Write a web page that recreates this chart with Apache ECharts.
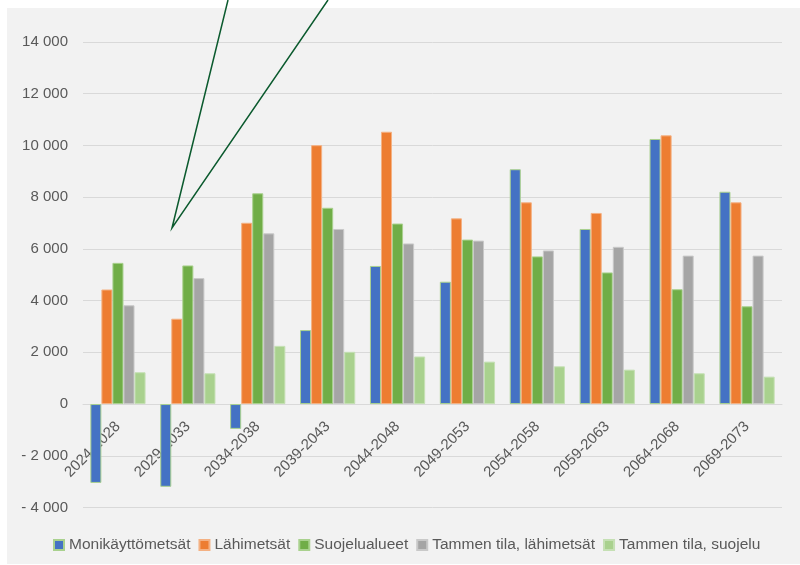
<!DOCTYPE html>
<html>
<head>
<meta charset="utf-8">
<script src="https://cdn.jsdelivr.net/npm/echarts@6/dist/echarts.min.js"></script>
<style>
  html, body { margin: 0; padding: 0; background: #fff; }
  #chart { width: 800px; height: 565px; }
</style>
</head>
<body>
<div id="chart"></div>
<script>
const periods = ["2024-2028", "2029-2033", "2034-2038", "2039-2043", "2044-2048",
  "2049-2053", "2054-2058", "2059-2063", "2064-2068", "2069-2073"];
const seriesNames = ["Monikäyttömetsät", "Lähimetsät", "Suojelualueet",
  "Tammen tila, lähimetsät", "Tammen tila, suojelu"];
const monikaytto = [-3050, -3200, -960, 2860, 5340, 4730, 9080, 6770, 10250, 8210];
const lahimetsat = [4430, 3300, 7010, 10010, 10530, 7180, 7800, 7390, 10390, 7800];
const suojelu = [5460, 5360, 8150, 7590, 6980, 6360, 5710, 5090, 4440, 3780];
const tammiLahi = [3820, 4870, 6600, 6770, 6210, 6320, 5940, 6080, 5740, 5740];
const tammiSuoj = [1230, 1190, 2250, 2020, 1840, 1640, 1460, 1330, 1190, 1060];
const yTicks = [-4000, -2000, 0, 2000, 4000, 6000, 8000, 10000, 12000, 14000];

const colors = ["#4472c4", "#ed7d31", "#70ad47", "#a5a5a5", "#a9d18e"];
const borders = ["#a9d18e", "#f4b183", "#a9d18e", "#c9c9c9", "#c5e0b4"];
const font = "Liberation Sans";

const fmt = (v) => {
  const s = Math.abs(v).toString().replace(/\B(?=(\d{3})+(?!\d))/g, " ");
  return v < 0 ? "- " + s : s;
};

const chartDom = document.getElementById("chart");
const myChart = echarts.init(chartDom);

const data = [monikaytto, lahimetsat, suojelu, tammiLahi, tammiSuoj];

// grid box, and where the zero line sits inside it (labels follow the zero line)
const gridTop = 42, gridBottom = 57.5;
const gridH = 565 - gridTop - gridBottom;
const yMin = yTicks[0], yMax = yTicks[yTicks.length - 1];
const zeroOffset = -((0 - yMin) / (yMax - yMin)) * gridH;

const option = {
  backgroundColor: "#ffffff",
  animation: false,
  color: colors,
  textStyle: { fontFamily: font },
  graphic: [
    {
      type: "rect",
      z: -10,
      shape: { x: 7, y: 8, width: 793, height: 556 },
      style: { fill: "#f2f2f2" },
    },
    // annotation arrow lines
    {
      type: "polyline",
      z: 10,
      shape: { points: [[228, 0], [172, 228], [328, 0]] },
      style: { stroke: "#0b5a2e", lineWidth: 1.5, fill: null },
    },
  ],
  legend: {
    top: 532,
    left: 48,
    itemWidth: 10,
    itemHeight: 10,
    itemGap: 8,
    icon: "rect",
    textStyle: { fontSize: 15.5, color: "#595959", fontFamily: font },
    data: seriesNames,
  },
  grid: { left: 83, right: 18, top: gridTop, bottom: gridBottom, outerBoundsMode: "none", containLabel: false },
  xAxis: {
    type: "category",
    data: periods,
    offset: zeroOffset,
    axisLine: { show: true, onZero: false, lineStyle: { color: "#d9d9d9", width: 1 } },
    axisTick: { show: false },
    axisLabel: { rotate: 45, fontSize: 15, color: "#595959", margin: 20, interval: 0 },
  },
  yAxis: {
    type: "value",
    min: yMin,
    max: yMax,
    interval: 2000,
    axisLine: { show: false },
    axisTick: { show: false },
    splitLine: { lineStyle: { color: "#d9d9d9", width: 1 } },
    axisLabel: { fontSize: 15, color: "#595959", margin: 15, formatter: fmt },
  },
  series: seriesNames.map((name, i) => ({
    name: name,
    type: "bar",
    data: data[i],
    barGap: "0%",
    barCategoryGap: "21%",
    itemStyle: { color: colors[i], borderColor: borders[i], borderWidth: 1 },
  })),
};

myChart.setOption(option);
</script>
</body>
</html>
